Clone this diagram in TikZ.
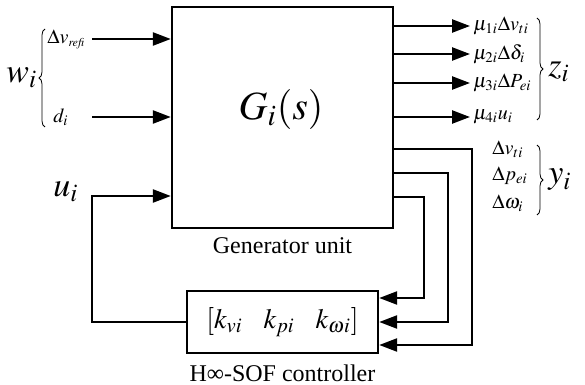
\documentclass[tikz,border=0pt]{standalone}
\usepackage{mathptmx}
\usepackage[no-math]{fontspec}
\setmainfont{Liberation Serif}
\usetikzlibrary{arrows.meta,positioning,decorations.pathreplacing}

\begin{document}
\begin{tikzpicture}[x=0.5pt, y=-0.5pt]
    % Define styles
    \tikzstyle{block} = [rectangle, draw=black, line width=1.2pt, inner sep=0pt]
    \tikzstyle{arrow} = [line width=1.2pt, -{Triangle[length=9pt,width=6.5pt]}]
    \tikzstyle{sig} = [font=\fontsize{10}{12}\selectfont, inner sep=0pt, anchor=west]
    \tikzstyle{bigsig} = [font=\fontsize{17}{20}\selectfont, inner sep=0pt, anchor=west]
    \tikzstyle{caption} = [font=\fontsize{12}{14}\selectfont, inner sep=0pt]
    \tikzstyle{brc} = [decorate, decoration={brace, amplitude=3pt}, line width=0.4pt]

    \useasboundingbox (0,0) rectangle (585,385);

    % Blocks
    \node [block, minimum width=110.5pt, minimum height=110.5pt] (plant) at (282.5,117.5) {};
    \node [font=\fontsize{20}{24}\selectfont] (gs) at (281,110) {$G_i(s)$};
    \node [caption, below=4pt of plant] (plantlbl) {Generator unit};
    \node [block, minimum width=95.5pt, minimum height=31pt, font=\fontsize{14}{17}\selectfont] (ctrl) at (282.5,322)
        {$[k_{vi}\hspace{0.75em}k_{pi}\hspace{0.75em}k_{\omega i}]$};
    \node [caption, below=5pt of ctrl] (ctrllbl) {H∞-SOF controller};

    % Inputs
    \coordinate (in1) at (92,39);
    \coordinate (in2) at (92,117);
    \coordinate (uin) at (92,196);
    \node [sig] (dvref) at (47,39) {$\Delta v_{\scriptscriptstyle\mathit{refi}}$};
    \node [sig] (dist) at (53,117) {$d_i$};
    \node [bigsig] (ulbl) at (53,192) {$u_i$};
    \node [bigsig] (wlbl) at (6,78) {$w_i$};
    \draw [brc] (45,127) -- (45,29);
    \draw [arrow] (in1) -- (in1 -| plant.west);
    \draw [arrow] (in2) -- (in2 -| plant.west);
    \draw [arrow] (ctrl.west) -| (uin) -- (uin -| plant.west);

    % Performance outputs
    \coordinate (z1) at (470,26);
    \coordinate (z2) at (470,54);
    \coordinate (z3) at (470,83);
    \coordinate (z4) at (470,117);
    \draw [arrow] (z1 -| plant.east) -- (z1);
    \draw [arrow] (z2 -| plant.east) -- (z2);
    \draw [arrow] (z3 -| plant.east) -- (z3);
    \draw [arrow] (z4 -| plant.east) -- (z4);
    \node [sig] (zv) at (473,26) {$\mu_{1i}\Delta v_{ti}$};
    \node [sig] (zd) at (473,54) {$\mu_{2i}\Delta\delta_i$};
    \node [sig] (zp) at (473,83) {$\mu_{3i}\Delta P_{ei}$};
    \node [sig] (zu) at (473,117) {$\mu_{4i}u_i$};
    \draw [brc] (537,18) -- (537,120);
    \node [bigsig] (zlbl) at (548,72) {$z_i$};

    % Measured outputs fed back
    \coordinate (fb1) at (472,345);
    \coordinate (fb2) at (448,322);
    \coordinate (fb3) at (424,298);
    \draw [arrow] (plant.east |- 0,149) -| (fb1) -- (fb1 -| ctrl.east);
    \draw [arrow] (plant.east |- 0,173) -| (fb2) -- (fb2 -| ctrl.east);
    \draw [arrow] (plant.east |- 0,197) -| (fb3) -- (fb3 -| ctrl.east);
    \node [sig] (yv) at (492,149) {$\Delta v_{ti}$};
    \node [sig] (yp) at (492,176) {$\Delta p_{ei}$};
    \node [sig] (yw) at (492,203) {$\Delta\omega_i$};
    \draw [brc] (537,145) -- (537,215);
    \node [bigsig] (ylbl) at (548,180) {$y_i$};
\end{tikzpicture}
\end{document}
